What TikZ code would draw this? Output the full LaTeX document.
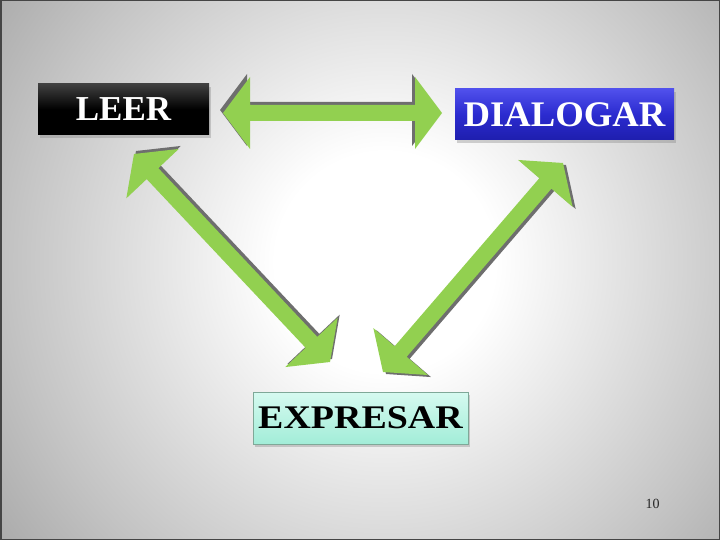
\documentclass[tikz,border=0pt]{standalone}
\usepackage{fontspec}
\setmainfont{Liberation Serif}
\usetikzlibrary{calc,shadows}
\definecolor{arrgreen}{HTML}{92D050}
\definecolor{arrshadow}{HTML}{6E6E6E}
\definecolor{bgA}{HTML}{C4C4C4}
\definecolor{bgB}{HTML}{9C9C9C}
\definecolor{bgC}{HTML}{959595}
\definecolor{bgD}{HTML}{939393}
\definecolor{framecol}{HTML}{454545}
\definecolor{blueTop}{HTML}{5050EC}
\definecolor{blueMid}{HTML}{2B2BCF}
\definecolor{blueBot}{HTML}{1E1EAE}
\definecolor{mintTop}{HTML}{D6FAF0}
\definecolor{mintBot}{HTML}{A2EDD8}
\definecolor{mintBorder}{HTML}{7FA898}
\pgfdeclareradialshading{bgshade}{\pgfpoint{0bp}{0bp}}{color(0bp)=(white); color(5.5bp)=(white); color(18.5bp)=(bgA); color(26.9bp)=(bgB); color(32.5bp)=(bgC); color(35.4bp)=(bgD); color(50bp)=(bgD)}
\newcommand\dblarr[3]{%
  \fill[arrshadow, transform canvas={shift={#3}}] (#1) -- ($(#1)!27pt!(#2)!36pt!90:(#2)$) -- ($(#1)!27pt!(#2)!8pt!90:(#2)$) -- ($(#2)!27pt!(#1)!8pt!-90:(#1)$) -- ($(#2)!27pt!(#1)!36pt!-90:(#1)$) -- (#2) -- ($(#2)!27pt!(#1)!36pt!90:(#1)$) -- ($(#2)!27pt!(#1)!8pt!90:(#1)$) -- ($(#1)!27pt!(#2)!8pt!-90:(#2)$) -- ($(#1)!27pt!(#2)!36pt!-90:(#2)$) -- cycle;
  \fill[arrgreen] (#1) -- ($(#1)!27pt!(#2)!36pt!90:(#2)$) -- ($(#1)!27pt!(#2)!8pt!90:(#2)$) -- ($(#2)!27pt!(#1)!8pt!-90:(#1)$) -- ($(#2)!27pt!(#1)!36pt!-90:(#1)$) -- (#2) -- ($(#2)!27pt!(#1)!36pt!90:(#1)$) -- ($(#2)!27pt!(#1)!8pt!90:(#1)$) -- ($(#1)!27pt!(#2)!8pt!-90:(#2)$) -- ($(#1)!27pt!(#2)!36pt!-90:(#2)$) -- cycle;
}
\tikzset{
  box/.style={rectangle, inner sep=0pt, drop shadow={shadow xshift=2pt, shadow yshift=-3pt, opacity=0.35}},
}
\begin{document}
\begin{tikzpicture}[x=1pt, y=-1pt]
\useasboundingbox (0,0) rectangle (720,540);
\begin{scope}
  \clip (0,0) rectangle (720,540);
  \shade[shading=bgshade] (-115,-238) rectangle (885,762);
\end{scope}
\draw[framecol, line width=1.5pt] (0.75,0.75) rectangle (719.25,539.25);

\node[box, minimum width=171pt, minimum height=51pt, top color=black!75, bottom color=black, middle color=black] (leer) at (123.5,109.5)
  {\textcolor{white}{\fontsize{35}{40}\selectfont\bfseries LEER}};
\node[box, minimum width=219pt, minimum height=51pt, top color=blueTop, bottom color=blueBot, middle color=blueMid] (dialogar) at (564.5,114.5)
  {\textcolor{white}{\scalebox{1.02}[1]{\fontsize{36}{40}\selectfont\bfseries DIALOGAR}}};
\node[box, minimum width=215pt, minimum height=52pt, top color=mintTop, bottom color=mintBot, draw=mintBorder, line width=0.8pt] (expresar) at (360.5,418)
  {\scalebox{1.15}[1]{\fontsize{33}{36}\selectfont\bfseries EXPRESAR}};

\coordinate (h1) at (223,113);
\coordinate (h2) at (442,113);
\coordinate (d1a) at (134,154);
\coordinate (d1b) at (330,362);
\coordinate (d2a) at (563,163);
\coordinate (d2b) at (383,372);

\dblarr{h1}{h2}{(-3pt,3pt)}
\dblarr{d1a}{d1b}{(2pt,3pt)}
\dblarr{d2a}{d2b}{(3pt,-2pt)}

\node[inner sep=0pt, text=black!85] (pnum) at (652.5,504) {\fontsize{14}{16}\selectfont 10};
\end{tikzpicture}
\end{document}
